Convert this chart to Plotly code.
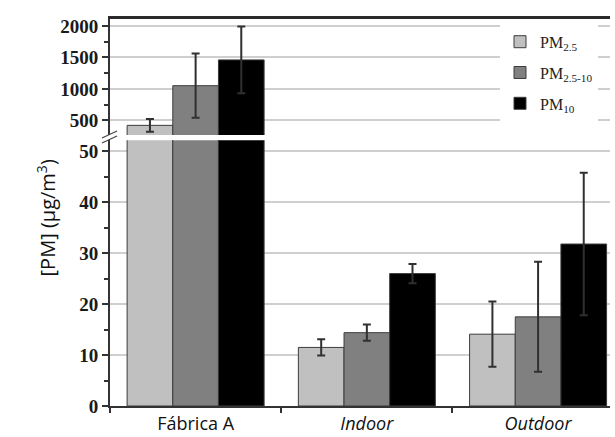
import plotly.graph_objects as go

categories = ["Fábrica A", "Indoor", "Outdoor"]
tick_labels = ["Fábrica A", "<i>Indoor</i>", "<i>Outdoor</i>"]
series_names = ["PM<sub>2.5</sub>", "PM<sub>2.5-10</sub>", "PM<sub>10</sub>"]
pm25 = [420, 11.5, 14.1]
pm25_err = [100, 1.6, 6.4]
pm2510 = [1050, 14.4, 17.5]
pm2510_err = [510, 1.6, 10.8]
pm10 = [1460, 26.0, 31.8]
pm10_err = [530, 1.9, 14.0]
colors = ["#c0c0c0", "#808080", "#000000"]

values = [pm25, pm2510, pm10]
errors = [pm25_err, pm2510_err, pm10_err]

fig = go.Figure()
for i in range(3):
    for yax, show in (("y", True), ("y2", False)):
        fig.add_trace(go.Bar(
            x=categories, y=values[i], name=series_names[i],
            marker=dict(color=colors[i], line=dict(color="#3c3c3c", width=1)),
            error_y=dict(type="data", array=errors[i], visible=True,
                         color="#303030", thickness=2, width=4),
            xaxis="x" if yax == "y" else "x2", yaxis=yax,
            showlegend=show, legendgroup=f"g{i}",
        ))

axis_font = dict(family="Liberation Serif", size=19, color="#1a1a1a", weight="bold")
fig.update_layout(
    width=615, height=437,
    margin=dict(l=110, r=5, t=19, b=31, autoexpand=False),
    paper_bgcolor="white", plot_bgcolor="white",
    barmode="group", bargap=0.2, bargroupgap=0,
    showlegend=True,
    legend=dict(x=0.78, y=0.985, xanchor="left", yanchor="top",
                bgcolor="white", tracegroupgap=7,
                font=dict(family="Liberation Serif", size=16, color="#222")),
    xaxis=dict(domain=[0, 1], anchor="y", type="category", range=[-0.5, 2.42],
               tickmode="array", tickvals=categories, ticktext=tick_labels,
               tickson="boundaries", ticks="outside", ticklen=5, tickwidth=1.5,
               tickcolor="#333", showline=True, linecolor="#333", linewidth=2,
               showgrid=False, automargin=False,
               tickfont=dict(family="Open Sans", size=18, color="#111")),
    xaxis2=dict(domain=[0, 1], anchor="y2", matches="x", side="top",
                showticklabels=False, ticks="", showline=True,
                linecolor="#2a2a2a", linewidth=3, showgrid=False),
    yaxis=dict(domain=[0, 0.687], range=[0, 52.2], anchor="x",
               tickvals=[0, 10, 20, 30, 40, 50], ticks="outside", ticklen=6,
               tickwidth=1.5, tickcolor="#333", showline=True,
               linecolor="#333", linewidth=2, showgrid=True,
               gridcolor="#cfcfcf", gridwidth=2, zeroline=False,
               automargin=False,
               minor=dict(tickvals=[5, 15, 25, 35, 45], ticks="outside",
                          ticklen=4, tickcolor="#333", showgrid=False),
               tickfont=axis_font),
    yaxis2=dict(domain=[0.70, 1], range=[265, 2110], anchor="x2",
                tickvals=[500, 1000, 1500, 2000], ticks="outside", ticklen=6,
                tickwidth=1.5, tickcolor="#333", showline=True,
                linecolor="#333", linewidth=2, showgrid=True,
                gridcolor="#cfcfcf", gridwidth=2, zeroline=False,
                automargin=False,
                minor=dict(tickvals=[750, 1250, 1750], ticks="outside",
                           ticklen=4, tickcolor="#333", showgrid=False),
                tickfont=axis_font),
    annotations=[dict(text="[PM] (μg/m<sup>3</sup>)", xref="paper", yref="paper",
                      x=-0.16, y=0.486, textangle=-90, showarrow=False,
                      font=dict(family="Open Sans", size=20, color="#111"))],
)

def px(xp, yp):
    return (xp - 110) / 500, (406 - yp) / 387

for (x0, y0, x1, y1) in [(102, 138, 117, 131), (102, 143, 117, 136)]:
    a, b = px(x0, y0)
    c, d = px(x1, y1)
    fig.add_shape(type="line", xref="paper", yref="paper", x0=a, y0=b, x1=c, y1=d,
                  line=dict(color="#444", width=1.2))

fig.write_html("out.html", config={"displayModeBar": False},
               post_script="document.body.style.margin='0';document.body.style.overflow='hidden';")
